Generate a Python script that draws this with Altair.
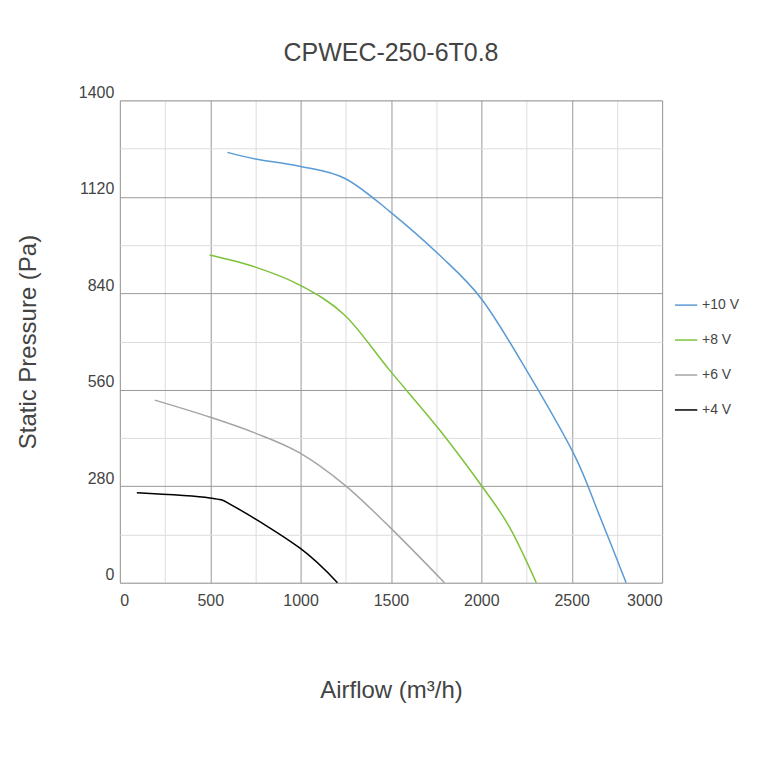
import pandas as pd
import altair as alt

series = ['+10 V', '+8 V', '+6 V', '+4 V']
colors = ['#5b9bd5', '#7dc23a', '#a5a5a5', '#000000']

q_10 = [595, 750, 995, 1243, 1492, 1768, 2006, 2265, 2514, 2652, 2801]
p_10 = [1249, 1230, 1209, 1174, 1078, 951, 820, 603, 371, 197, 0]
q_8 = [497, 750, 995, 1243, 1492, 1768, 2006, 2155, 2304]
p_8 = [951, 916, 864, 777, 617, 444, 278, 162, 0]
q_6 = [193, 497, 746, 995, 1243, 1492, 1796]
p_6 = [530, 481, 435, 377, 284, 162, 0]
q_4 = [94, 497, 636, 995, 1204]
p_4 = [261, 246, 220, 101, 0]

rows = []
for name, qs, ps in zip(series, [q_10, q_8, q_6, q_4], [p_10, p_8, p_6, p_4]):
    for i, (q, p) in enumerate(zip(qs, ps)):
        rows.append({'series': name, 'q': q, 'p': p, 'i': i})
df = pd.DataFrame(rows)

font = 'Liberation Sans'

chart = alt.Chart(df).mark_line(interpolate='cardinal', strokeWidth=1.5).encode(
    alt.X('q:Q', title='Airflow (m³/h)', scale=alt.Scale(domain=[0, 3000], nice=False),
          axis=alt.Axis(values=list(range(0, 3001, 250)),
                        labelExpr="datum.value % 500 ? '' : datum.label",
                        format='d', ticks=False, domain=False, labelPadding=10,
                        labelFontSize=16, titleFontSize=24, titlePadding=70,
                        labelColor='#444', titleColor='#444', titleFontWeight='normal',
                        gridColor={'condition': {'test': 'datum.value % 500 === 0', 'value': '#999999'},
                                   'value': '#dddddd'})),
    alt.Y('p:Q', title='Static Pressure (Pa)', scale=alt.Scale(domain=[0, 1400], nice=False),
          axis=alt.Axis(values=list(range(0, 1401, 140)),
                        labelExpr="datum.value % 280 ? '' : datum.label",
                        format='d', ticks=False, domain=False, labelPadding=6,
                        labelFontSize=16, titleFontSize=24, titlePadding=38,
                        labelColor='#444', titleColor='#444', titleFontWeight='normal',
                        labelBaseline='bottom',
                        gridColor={'condition': {'test': 'datum.value % 280 === 0', 'value': '#999999'},
                                   'value': '#dddddd'})),
    alt.Color('series:N', scale=alt.Scale(domain=series, range=colors),
              legend=alt.Legend(title=None, orient='none', legendX=555, legendY=193,
                                symbolType='stroke', symbolSize=500, symbolStrokeWidth=1.5,
                                labelFontSize=14, labelColor='#444', rowPadding=16)),
    order='i:Q',
).properties(
    width=543, height=483,
    title=alt.TitleParams('CPWEC-250-6T0.8', fontSize=25, color='#444',
                          fontWeight='normal', offset=18),
    padding={'left': 112, 'top': 92, 'right': 90, 'bottom': 160},
    autosize=alt.AutoSizeParams(type='none'),
).configure_view(stroke='#999999').configure(font=font)

chart.save('out.html', embed_options={'renderer': 'svg', 'actions': False})
